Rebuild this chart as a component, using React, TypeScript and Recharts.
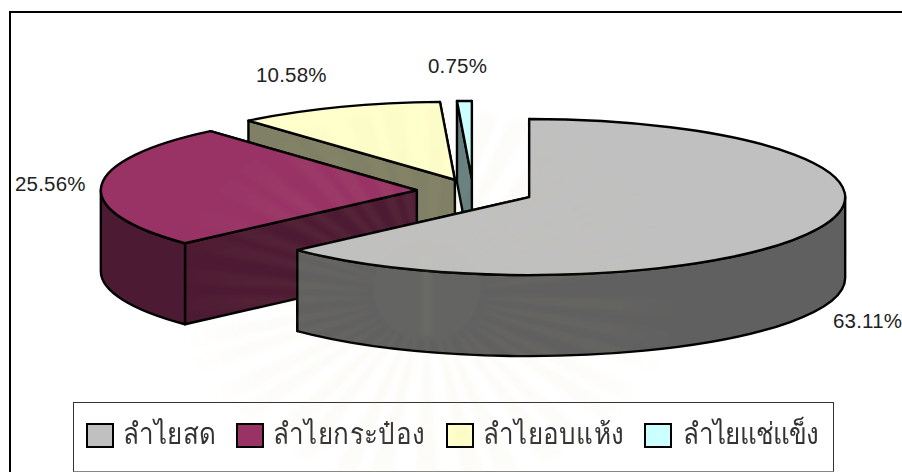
import { PieChart, Pie, Legend } from "recharts";

const categories = ["ลำไยสด", "ลำไยกระป๋อง", "ลำไยอบแห้ง", "ลำไยแช่แข็ง"];
const shares = [63.11, 25.56, 10.58, 0.75];
const topColors = ["#C0C0C0", "#993366", "#FFFFCC", "#CCFFFF"];
const wallColors = ["#606060", "#4D1A33", "#808066", "#668080"];
const explode = [0.194, 0.178, 0.155, 0.155];

const labelSpots = [
  [833, 328],
  [15, 191],
  [256, 82],
  [428, 73],
];
const legendSwatchX = [12, 162, 372, 570];
const legendTextX = [49, 199, 409, 609];
const legendSpacing = [0.2, 0.4, 0.3, -0.8];

const RX = 316;
const RY = 78;
const DEPTH = 81;

// crest printed faintly across the page
const CREST_X = 427;
const CREST_Y = 295;
const rayAngles = [
  4, 14, 22, 33, 41, 52, 60, 71, 79, 90, 101, 109, 120, 128, 139, 147, 158, 166, 177, 186, 197, 205, 216, 224, 235,
  243, 254, 262, 273, 284, 292, 303, 311, 322, 330, 341, 349,
];

// painted back to front, so the big slice ends up on top
const rows = categories
  .map((name, i) => ({ name, value: shares[i], idx: i }))
  .reverse();

const rad = (deg: number) => (deg * Math.PI) / 180;

const Slice3D = (props: any) => {
  const { cx, cy, startAngle, endAngle, index } = props;
  const idx = rows[index].idx;
  const mid = rad((startAngle + endAngle) / 2);
  const ox = cx + explode[idx] * RX * Math.cos(mid);
  const oy = cy - explode[idx] * RY * Math.sin(mid);
  const px = (a: number) => ox + RX * Math.cos(rad(a));
  const py = (a: number) => oy - RY * Math.sin(rad(a));
  const large = (a: number, b: number) => (b - a > 180 ? 1 : 0);

  const face = (a: number) =>
    `M${ox},${oy} L${px(a)},${py(a)} L${px(a)},${py(a) + DEPTH} L${ox},${oy + DEPTH} Z`;
  const faces = [startAngle, endAngle].sort((a, b) => py(a) - py(b));

  // outer wall only shows on the front half of the ellipse
  const from = Math.max(startAngle, 180);
  const to = Math.min(endAngle, 360);
  const rim =
    to > from
      ? `M${px(from)},${py(from)} A${RX},${RY} 0 ${large(from, to)} 0 ${px(to)},${py(to)} ` +
        `L${px(to)},${py(to) + DEPTH} A${RX},${RY} 0 ${large(from, to)} 1 ${px(from)},${py(from) + DEPTH} Z`
      : null;

  const top =
    `M${ox},${oy} L${px(startAngle)},${py(startAngle)} ` +
    `A${RX},${RY} 0 ${large(startAngle, endAngle)} 0 ${px(endAngle)},${py(endAngle)} Z`;

  const line = { stroke: "#000", strokeWidth: 2.4, strokeLinejoin: "round" as const };
  return (
    <g>
      {faces.map((a) => (
        <path key={a} d={face(a)} fill={wallColors[idx]} {...line} />
      ))}
      {rim && <path d={rim} fill={wallColors[idx]} {...line} />}
      <path d={top} fill={topColors[idx]} {...line} />
    </g>
  );
};

const PctLabel = (props: any) => {
  const idx = rows[props.index].idx;
  return (
    <text
      x={labelSpots[idx][0]}
      y={labelSpots[idx][1]}
      fontFamily="Liberation Sans"
      fontSize={20.5}
      letterSpacing={0.2}
      fill="#222"
    >
      {`${shares[idx].toFixed(2)}%`}
    </text>
  );
};

const LegendBox = () => (
  <div
    style={{
      position: "relative",
      width: 759,
      height: 68,
      background: "#fff",
      border: "1.5px solid #333",
      borderBottomColor: "#888",
    }}
  >
    {categories.map((name, i) => (
      <span key={name}>
        <span
          style={{
            position: "absolute",
            left: legendSwatchX[i],
            top: 20,
            width: 24,
            height: 21,
            background: topColors[i],
            border: "2.5px solid #000",
            boxSizing: "content-box",
          }}
        />
        <span
          style={{
            position: "absolute",
            left: legendTextX[i],
            top: 9,
            fontFamily: "Noto Sans",
            fontSize: 26,
            lineHeight: "44px",
            letterSpacing: legendSpacing[i],
            color: "#333",
            whiteSpace: "nowrap",
            transform: "scaleY(1.12)",
            transformOrigin: "0 32px",
          }}
        >
          {name}
        </span>
      </span>
    ))}
  </div>
);

const Crest = () => (
  <svg
    width={902}
    height={472}
    style={{ position: "absolute", left: 0, top: 0, pointerEvents: "none" }}
  >
    <defs>
      <filter id="crestBlur">
        <feGaussianBlur stdDeviation={2} />
      </filter>
      <radialGradient id="crestFade" gradientUnits="userSpaceOnUse" cx={CREST_X} cy={CREST_Y} r={250}>
        <stop offset="0.2" stopColor="#c8bc80" stopOpacity={0.07} />
        <stop offset="0.75" stopColor="#c8bc80" stopOpacity={0.04} />
        <stop offset="1" stopColor="#c8bc80" stopOpacity={0} />
      </radialGradient>
    </defs>
    <g filter="url(#crestBlur)">
      {rayAngles.map((a) => {
        const half = 2.6;
        const inner = 58;
        const outer = 250;
        const pt = (r: number, d: number) =>
          `${CREST_X + r * Math.cos(rad(d))},${CREST_Y + 0.75 * r * Math.sin(rad(d))}`;
        return (
          <polygon
            key={a}
            points={`${pt(inner, a - half * 0.5)} ${pt(outer, a - half)} ${pt(outer, a + half)} ${pt(inner, a + half * 0.5)}`}
            fill="url(#crestFade)"
          />
        );
      })}
      <ellipse cx={CREST_X} cy={CREST_Y - 5} rx={54} ry={50} fill="#b0b0a0" fillOpacity={0.05} />
      <rect x={CREST_X - 5} y={CREST_Y - 45} width={10} height={85} fill="#c8bc80" fillOpacity={0.05} />
    </g>
  </svg>
);

export default function App() {
  return (
    <div style={{ position: "absolute", left: 0, top: 0, width: 902, height: 472, overflow: "hidden", background: "#fff" }}>
      <div
        style={{
          position: "absolute",
          left: 9,
          top: 11,
          width: 900,
          height: 470,
          borderLeft: "2px solid #000",
          borderTop: "2px solid #000",
        }}
      />
      <PieChart width={902} height={472} margin={{ top: 0, right: 0, bottom: 0, left: 0 }}>
        <Pie
          data={rows}
          dataKey="value"
          nameKey="name"
          cx={473}
          cy={191}
          outerRadius={316}
          startAngle={90}
          endAngle={450}
          shape={Slice3D}
          label={PctLabel}
          labelLine={false}
          isAnimationActive={false}
        />
        <Legend
          content={LegendBox}
          layout="horizontal"
          wrapperStyle={{ position: "absolute", left: 73, top: 402, width: 762, height: 71 }}
        />
      </PieChart>
      <Crest />
    </div>
  );
}
